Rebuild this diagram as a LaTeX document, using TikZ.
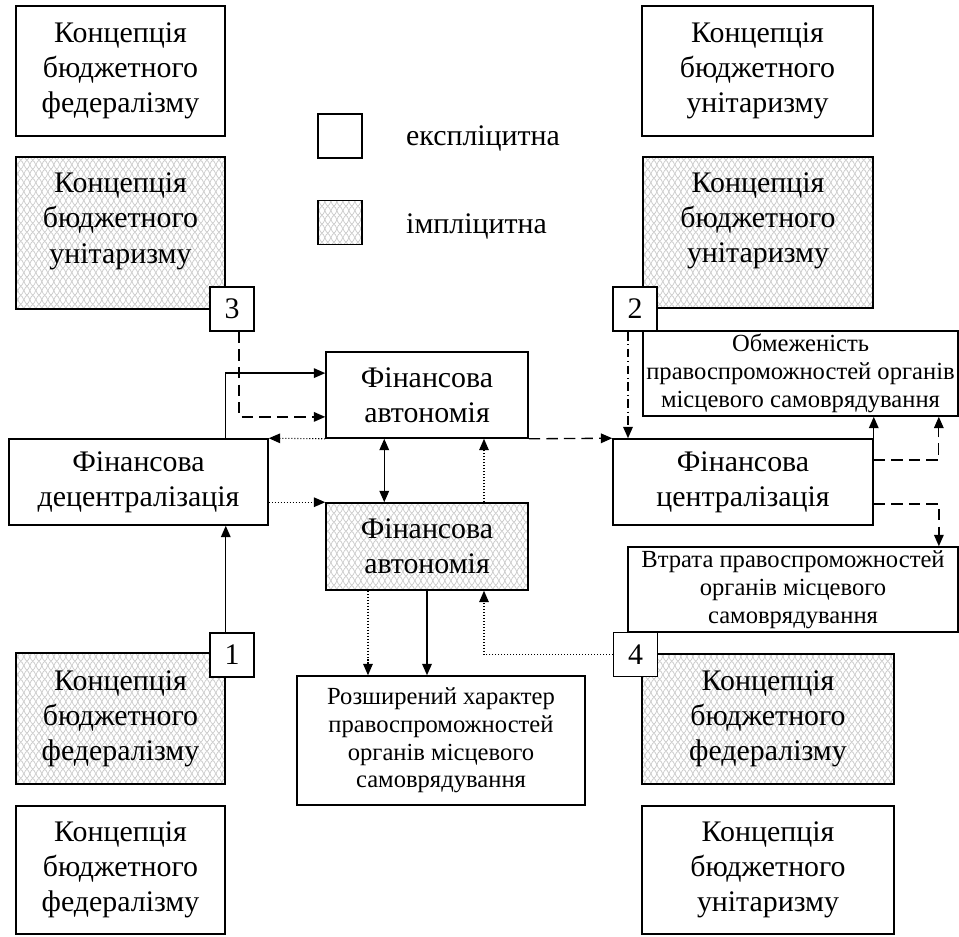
\documentclass[tikz,border=0pt]{standalone}
\usepackage{fontspec}
\setmainfont{Liberation Serif}
\usepackage{tikz}
\usetikzlibrary{arrows.meta, positioning, calc, patterns.meta}
\tikzdeclarepattern{
  name=scales,
  type=uncolored,
  bounding box={(0,0) and (7pt,5pt)},
  tile size={(7pt,5pt)},
  code={
    \draw [line width=0.45pt] (0pt,2.5pt) sin (1.75pt,5pt) cos (3.5pt,2.5pt) sin (5.25pt,0pt) cos (7pt,2.5pt);
    \draw [line width=0.45pt] (0pt,2.5pt) sin (1.75pt,0pt) cos (3.5pt,2.5pt) sin (5.25pt,5pt) cos (7pt,2.5pt);
  }
}
\tikzstyle{block} = [draw, rectangle, line width=0.9pt, align=center, inner sep=0pt, font=\fontsize{17}{20}\selectfont]
\tikzstyle{expl} = [block, fill=white]
\tikzstyle{impl} = [block, pattern=scales, pattern color=black!20]
\tikzstyle{small} = [font=\fontsize{14}{15.8}\selectfont]
\tikzstyle{num} = [block, fill=white, minimum size=0.88cm]
\tikzstyle{legend} = [anchor=west, font=\fontsize{17}{20}\selectfont]
\tikzstyle{link} = [-{Triangle[length=6.5pt, width=5.5pt]}, line width=0.75pt]
\tikzstyle{dashlink} = [link, dash pattern=on 6.5pt off 3.5pt]
\tikzstyle{dotlink} = [link, line width=0.6pt, dash pattern=on 0.6pt off 1.1pt]
\tikzstyle{dashdotlink} = [link, dash pattern=on 5pt off 2pt on 0.6pt off 2pt]
\begin{document}
\begin{tikzpicture}[x=0.02cm, y=-0.02cm]
    \useasboundingbox (0,0) rectangle (959,936);

    % Concepts, left column.
    \node (fedTL) [expl, minimum width=4.18cm, minimum height=2.6cm] at (120.5,71) {Концепція\\бюджетного\\федералізму};
    \node (uniL) [impl, minimum width=4.18cm, minimum height=3.04cm, text depth=17pt] at (120.5,233) {Концепція\\бюджетного\\унітаризму};
    \node (fedBL) [impl, minimum width=4.18cm, minimum height=2.62cm] at (120.5,718.5) {Концепція\\бюджетного\\федералізму};
    \node (fedB) [expl, minimum width=4.18cm, minimum height=2.56cm] at (120.5,870) {Концепція\\бюджетного\\федералізму};

    % Concepts, right column.
    \node (uniTR) [expl, minimum width=4.62cm, minimum height=2.6cm] at (757.5,71) {Концепція\\бюджетного\\унітаризму};
    \node (uniR) [impl, minimum width=4.6cm, minimum height=3.02cm, text depth=17pt] at (758,232.5) {Концепція\\бюджетного\\унітаризму};
    \node (fedBR) [impl, minimum width=5.04cm, minimum height=2.6cm] at (768,719) {Концепція\\бюджетного\\федералізму};
    \node (uniB) [expl, minimum width=5.04cm, minimum height=2.56cm] at (768,870) {Концепція\\бюджетного\\унітаризму};

    % Legend.
    \node (keyExpl) [expl, minimum size=0.88cm] at (340,136) {};
    \node (keyImpl) [impl, minimum size=0.88cm] at (340,222.5) {};
    \node (txtExpl) [legend] at (400,138) {експліцитна};
    \node (txtImpl) [legend] at (400,226) {імпліцитна};

    % Finance.
    \node (decentral) [expl, minimum width=5.18cm, minimum height=1.72cm] at (138.5,482) {Фінансова\\децентралізація};
    \node (autoExp) [expl, minimum width=4.04cm, minimum height=1.72cm] at (427,395) {Фінансова\\автономія};
    \node (autoImp) [impl, minimum width=4.04cm, minimum height=1.74cm] at (427,546.5) {Фінансова\\автономія};
    \node (central) [expl, minimum width=5.2cm, minimum height=1.72cm] at (743,482) {Фінансова\\централізація};

    % Consequences.
    \node (limit) [expl, small, minimum width=6.3cm, minimum height=1.7cm] at (800.5,373.5) {Обмеженість\\правоспроможностей органів\\місцевого самоврядування};
    \node (loss) [expl, small, minimum width=6.6cm, minimum height=1.7cm] at (793,589.5) {Втрата правоспроможностей\\органів місцевого\\самоврядування};
    \node (wide) [expl, small, minimum width=5.76cm, minimum height=2.58cm] at (441,740.5) {Розширений характер\\правоспроможностей\\органів місцевого\\самоврядування};

    % Numbers.
    \node (box1) [num] at (232,655) {1};
    \node (box2) [num] at (635,309) {2};
    \node (box3) [num] at (232,309) {3};
    \node (box4) [num] at (635.5,654.5) {4};

    % Arrows.
    \coordinate (drop3) at ($(box3.south)+(7,0)$);
    \coordinate (drop2) at ($(box2.south)+(-7,0)$);
    \coordinate (drop5) at ($(autoImp.south west)!.21!(autoImp.south east)$);
    \draw [link] (box1.north -| fedBL.east) -- (decentral.south -| fedBL.east);
    \draw [link] (decentral.north -| fedBL.east) |- ($(autoExp.north west)!.25!(autoExp.south west)$);
    \draw [dashlink] (drop3) |- ($(autoExp.north west)!.75!(autoExp.south west)$);
    \draw [dotlink] (autoExp.south west) -- (decentral.north east);
    \draw [dotlink] (decentral.east |- autoImp.north) -- (autoImp.north west);
    \draw [link, {Triangle[length=6.5pt, width=5.5pt]}-{Triangle[length=6.5pt, width=5.5pt]}] ($(autoExp.south west)!.29!(autoExp.south east)$) -- ($(autoImp.north west)!.29!(autoImp.north east)$);
    \draw [dotlink] ($(autoImp.north west)!.78!(autoImp.north east)$) -- ($(autoExp.south west)!.78!(autoExp.south east)$);
    \draw [dashlink] (autoExp.south east) -- (central.north west);
    \draw [dashdotlink] (drop2) -- (drop2 |- central.north);
    \draw [link] (central.north east) -- (central.north east |- limit.south);
    \draw [dashlink] ($(central.north east)!.25!(central.south east)$) -| ($(limit.south west)!.937!(limit.south east)$);
    \draw [dashlink] ($(central.north east)!.75!(central.south east)$) -| ($(loss.north west)!.94!(loss.north east)$);
    \draw [dotlink] (drop5) -- (drop5 |- wide.north);
    \draw [link] (autoImp.south) -- (autoImp.south |- wide.north);
    \draw [dotlink] (box4.west) -| ($(autoImp.south west)!.78!(autoImp.south east)$);
\end{tikzpicture}
\end{document}
